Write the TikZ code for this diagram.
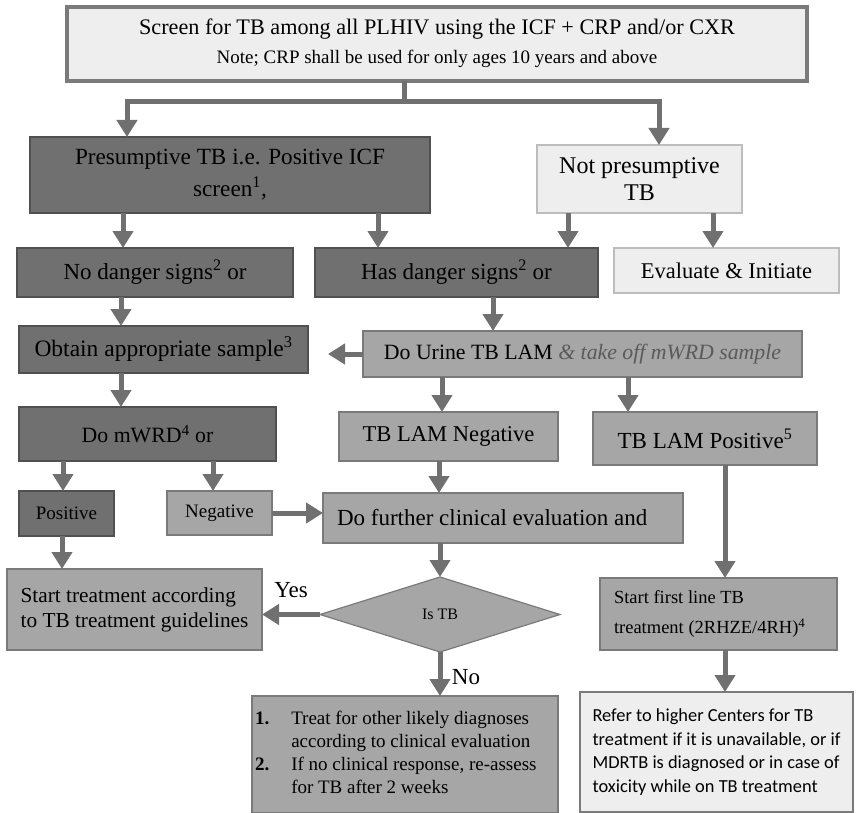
\documentclass[tikz,border=0pt]{standalone}
\usepackage{fontspec}
\setmainfont{Liberation Serif}
\newfontfamily\calib{Carlito}
\usetikzlibrary{arrows.meta,shapes.geometric}

\definecolor{dfill}{HTML}{707070}
\definecolor{dline}{HTML}{505050}
\definecolor{mfill}{HTML}{A6A6A6}
\definecolor{mline}{HTML}{7A7A7A}
\definecolor{lfill}{HTML}{EEEEEE}
\definecolor{lline}{HTML}{BDBDBD}
\definecolor{acol}{HTML}{707070}
\definecolor{itgray}{HTML}{5A5A5A}

\newcommand{\fs}[2]{\fontsize{#1}{#2}\selectfont}

\tikzset{
  base/.style={rectangle, inner sep=0pt, outer sep=0pt, align=center, text=black,
               line width=1.2pt, font=\fs{23}{26}},
  darkbox/.style={base, fill=dfill, draw=dline},
  midbox/.style={base, fill=mfill, draw=mline},
  lightbox/.style={base, fill=lfill, draw=lline},
  conn/.style={draw=acol, line width=5pt},
  arr/.style={draw=acol, line width=5pt, -{Triangle[width=20pt,length=17pt]}},
  lbl/.style={inner sep=0pt, font=\fs{23}{26}},
}

\begin{document}
\begin{tikzpicture}[x=1pt, y=-1pt]
\useasboundingbox (0,0) rectangle (856,813);

% boxes
\node[lightbox, draw=mline, line width=4pt, minimum width=740pt, minimum height=74pt, font=\fs{22.2}{24}] (top) at (437,44)
  {\raisebox{-3pt}{\begin{tabular}{@{}c@{}}
   Screen for TB among all PLHIV using the ICF + CRP and/or CXR\\[5pt]
   {\fs{19}{20}Note; CRP shall be used for only ages 10 years and above}
   \end{tabular}}};

\node[darkbox, minimum width=400pt, minimum height=76pt, font=\fs{23.2}{32}] (pres) at (230,175)
  {Presumptive TB i.e. Positive ICF\\ screen\textsuperscript{1},};
\node[lightbox, minimum width=205pt, minimum height=68pt, font=\fs{24}{27}] (notp) at (639.5,179)
  {Not presumptive\\ TB};

\node[darkbox, minimum width=276pt, minimum height=49pt] (nod) at (155,272.5)
  {No danger signs\textsuperscript{2} or};
\node[darkbox, minimum width=283pt, minimum height=49pt] (has) at (456.5,272.5)
  {Has danger signs\textsuperscript{2} or};
\node[lightbox, minimum width=225pt, minimum height=45pt, font=\fs{22.5}{26}] (eval) at (726.5,270.5)
  {Evaluate \& Initiate};

\node[darkbox, minimum width=289pt, minimum height=47pt, font=\fs{23.5}{26}] (obt) at (163.5,349.5)
  {Obtain appropriate sample\textsuperscript{3}};
\node[midbox, minimum width=439pt, minimum height=46pt, font=\fs{21.8}{26}] (urine) at (582.5,354)
  {Do Urine TB LAM {\itshape\color{itgray}\& take off mWRD sample}};

\node[darkbox, minimum width=257pt, minimum height=54pt, font=\fs{21.8}{26}] (mwrd) at (147.5,434)
  {Do mWRD\textsuperscript{4} or};
\node[midbox, minimum width=219pt, minimum height=49pt, font=\fs{22.6}{26}] (neg) at (448.5,436.5)
  {TB LAM Negative};
\node[midbox, minimum width=224pt, minimum height=53pt] (posl) at (705,438.5)
  {TB LAM Positive\textsuperscript{5}};

\node[darkbox, minimum width=95pt, minimum height=45pt, font=\fs{19}{22}] (posb) at (66.5,513.5)
  {Positive};
\node[midbox, minimum width=105pt, minimum height=44pt, font=\fs{19}{22}] (negb) at (219.5,513)
  {Negative};
\node[midbox, minimum width=360pt, minimum height=50pt, align=left] (further) at (503,518)
  {\makebox[332pt][l]{Do further clinical evaluation and}};

\node[midbox, minimum width=255pt, minimum height=81pt, align=left, font=\fs{21.3}{25}] (start) at (134.5,609.5)
  {\makebox[225pt][l]{Start treatment according}\\ to TB treatment guidelines};
\node[midbox, shape=diamond, minimum width=240pt, minimum height=75pt, font=\fs{16}{18}] (dia) at (440,614.5)
  {Is TB};
\node[midbox, minimum width=237pt, minimum height=72pt, align=left, font=\fs{18.5}{30}] (first) at (718.5,614)
  {\makebox[209pt][l]{Start first line TB}\\ treatment (2RHZE/4RH)\textsuperscript{4}};

\node[midbox, minimum width=306pt, minimum height=117pt, font=\fs{19}{22.7}] (treat) at (405,754.5)
  {\makebox[300pt][l]{\begin{tabular}{@{}l@{\hspace{22pt}}l@{}}
   \textbf{1.} & Treat for other likely diagnoses\\
               & according to clinical evaluation\\
   \textbf{2.} & If no clinical response, re-assess\\
               & for TB after 2 weeks
   \end{tabular}}};
\node[lightbox, draw=mline, minimum width=273pt, minimum height=120pt, align=left, font=\calib\fs{18.4}{23.7}] (refer) at (716.5,752)
  {\makebox[245pt][l]{Refer to higher Centers for TB}\\ treatment if it is unavailable, or if\\
   MDRTB is diagnosed or in case of\\ toxicity while on TB treatment};

% connectors
\draw[conn] (top.south -| 404,0) -- (404,102) coordinate (split);
\draw[arr] (split) -| (pres.north -| 127,0);
\draw[arr] (split) -| (notp.north -| 659,0);

\draw[arr] (pres.south -| 123,0) -- (nod.north -| 123,0);
\draw[arr] (pres.south -| 378,0) -- (has.north -| 378,0);
\draw[arr] (notp.south -| 568,0) -- (has.north -| 568,0);
\draw[arr] (notp.south -| 713,0) -- (eval.north -| 713,0);

\draw[arr] (nod.south -| 121,0) -- (obt.north -| 121,0);
\draw[arr] (has.south -| 493,0) -- (urine.north -| 493,0);
\draw[arr, shorten >=20pt] (urine.west) -- (obt.east |- urine.west);

\draw[arr] (obt.south -| 121,0) -- (mwrd.north -| 121,0);
\draw[arr] (urine.south -| 442,0) -- (neg.north -| 442,0);
\draw[arr] (urine.south -| 628,0) -- (posl.north -| 628,0);

\draw[arr] (mwrd.south -| 63,0) -- (posb.north -| 63,0);
\draw[arr] (mwrd.south -| 213,0) -- (negb.north -| 213,0);
\draw[arr] (negb.east) -- (further.west |- negb.east);
\draw[arr] (neg.south -| 439,0) -- (further.north -| 439,0);

\draw[arr] (posb.south -| 62,0) -- (start.north -| 62,0);
\draw[arr] (further.south -| 440,0) -- (dia.north);
\draw[arr] (dia.west) -- (start.east |- dia.west);
\node[lbl] (yes) at (291,590) {Yes};
\draw[arr] (dia.south) -- (treat.north -| dia.south);
\node[lbl] (no) at (466,677) {No};

\draw[arr] (posl.south -| 725,0) -- (first.north -| 725,0);
\draw[arr] (first.south -| 725,0) -- (refer.north -| 725,0);
\end{tikzpicture}
\end{document}
